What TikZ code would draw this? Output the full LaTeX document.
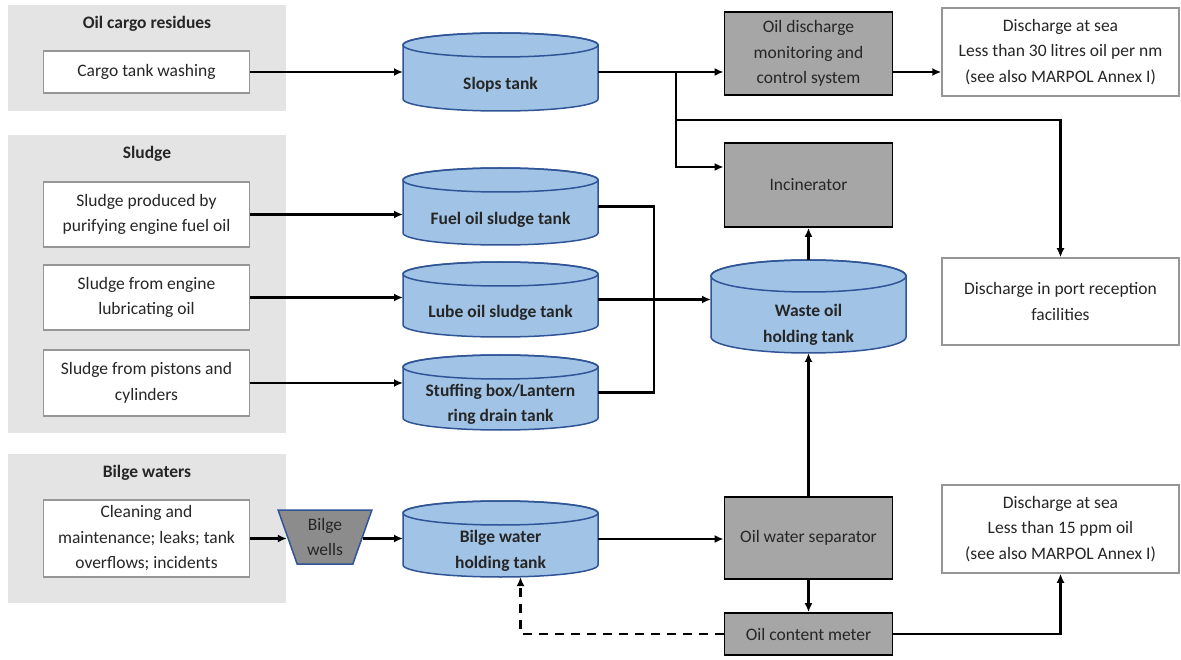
\documentclass[tikz,border=0pt]{standalone}
\usepackage{fontspec}
\setmainfont{Carlito}
\usetikzlibrary{arrows.meta, shapes.geometric, positioning}

\definecolor{panelgrey}{RGB}{228,228,228}
\definecolor{procgrey}{RGB}{166,166,166}
\definecolor{tankblue}{RGB}{160,195,230}
\definecolor{tankedge}{RGB}{47,85,151}
\definecolor{boxedge}{RGB}{150,150,150}
\definecolor{wellgrey}{RGB}{140,140,140}
\definecolor{inkgrey}{RGB}{38,38,38}

\newcommand\txt{\fontsize{17.5pt}{25.5pt}\selectfont}
\newcommand\tankrx{97.5pt}

\tikzset{
  tank ry/.store in=\tankry, tank ry=12pt,
  panel/.style={fill=panelgrey, draw=none, minimum width=278pt, inner sep=0pt},
  paneltitle/.style={font=\txt\bfseries},
  srcbox/.style={draw=boxedge, fill=white, line width=1.5pt, minimum width=206pt, align=center, inner sep=0pt},
  outbox/.style={draw=boxedge, fill=white, line width=1.5pt, minimum width=237pt, align=center, inner sep=0pt},
  procbox/.style={draw=black, fill=procgrey, line width=1.8pt, minimum width=168pt, align=center, inner sep=0pt},
  tank/.style={rectangle, minimum width=197pt, outer sep=-1pt, inner sep=0pt, align=center,
    font=\txt\bfseries, text height=38pt,
    path picture={
      \path ([xshift=1pt,yshift=-1pt]path picture bounding box.north west) coordinate (tnw)
            ([xshift=-1pt,yshift=1pt]path picture bounding box.south east) coordinate (tse)
            (tnw |- tse) coordinate (tsw) (tse |- tnw) coordinate (tne);
      \path[fill=tankblue, draw=tankedge, line width=1.5pt]
        ([yshift=-\tankry]tnw) -- ([yshift=\tankry]tsw)
        arc[start angle=180, end angle=360, x radius=\tankrx, y radius=\tankry]
        -- ([yshift=-\tankry]tne)
        arc[start angle=0, end angle=180, x radius=\tankrx, y radius=\tankry] -- cycle;
      \draw[tankedge, line width=1.5pt] ([yshift=-1pt-\tankry]path picture bounding box.north)
        ellipse[x radius=\tankrx, y radius=\tankry];
    }},
  twolines/.style={text height=61pt},
  well/.style={trapezium, trapezium stretches=true, trapezium left angle=72, trapezium right angle=72,
    shape border rotate=180, draw=tankedge, fill=wellgrey, line width=1.5pt, minimum width=94pt,
    minimum height=54pt, align=center, inner sep=0pt},
  flow/.style={line width=2.2pt, -{Latex[length=9pt,width=8pt]}},
}

\begin{document}
\begin{tikzpicture}[x=1pt, y=-1pt, every node/.append style={font=\txt, text=inkgrey}]
\useasboundingbox (0,0) rectangle (1181,660);

% source groups
\node[panel, minimum height=106pt] (cargopanel) at (147,58) {};
\node[panel, minimum height=298pt] (sludgepanel) at (147,284) {};
\node[panel, minimum height=149pt] (bilgepanel) at (147,528.5) {};
\node[paneltitle] (cargotitle) at (147,24) {Oil cargo residues};
\node[paneltitle] (sludgetitle) at (147,154) {Sludge};
\node[paneltitle] (bilgetitle) at (147,473) {Bilge waters};

\node[srcbox, minimum height=42pt] (washing) at (146.5,72) {Cargo tank washing};
\node[srcbox, minimum height=65pt] (fuelsrc) at (146.5,214.5) {Sludge produced by\\purifying engine fuel oil};
\node[srcbox, minimum height=65pt] (lubesrc) at (146.5,297.5) {Sludge from engine\\lubricating oil};
\node[srcbox, minimum height=66pt] (pistonsrc) at (146.5,383) {Sludge from pistons and\\cylinders};
\node[srcbox, minimum height=77pt] (cleaning) at (146.5,538.5) {Cleaning and\\maintenance; leaks; tank\\overflows; incidents};

\node[well] (wells) at (325,537) {Bilge\\wells};

% tanks
\node[tank, minimum height=80pt] (slops) at (500.5,72) {Slops tank};
\node[tank, minimum height=79pt] (fueltank) at (500.5,206.5) {Fuel oil sludge tank};
\node[tank, minimum height=77pt] (lubetank) at (500.5,299.5) {Lube oil sludge tank};
\node[tank, twolines, minimum height=77pt] (stuffing) at (500.5,392.5) {Stuffing box/Lantern\\ring drain tank};
\node[tank, twolines, minimum height=78pt] (bilgetank) at (500.5,539) {Bilge water\\holding\ tank};
\node[tank, tank ry=16pt, minimum height=95pt, text height=74.5pt] (waste) at (808.5,306.5) {Waste oil\\holding tank};

% treatment
\node[procbox, minimum height=83pt] (odm) at (808.5,53.5) {Oil discharge\\monitoring and\\control system};
\node[procbox, minimum height=84pt] (incin) at (808.5,185) {Incinerator};
\node[procbox, minimum height=82pt] (ows) at (808.5,538) {Oil water separator};
\node[procbox, minimum height=42pt] (ocm) at (808.5,634) {Oil content meter};

% outlets
\node[outbox, minimum height=88pt] (seaoil) at (1060.5,52) {Discharge at sea\\Less than 30 litres oil per nm\\(see also MARPOL Annex I)};
\node[outbox, minimum height=87pt] (port) at (1060.5,301.5) {Discharge in port reception\\facilities};
\node[outbox, minimum height=88pt] (seabilge) at (1060.5,529) {Discharge at sea\\Less than 15 ppm oil\\(see also MARPOL Annex I)};

\coordinate (split) at (676,72);
\coordinate (collect) at (654,300);

\path[flow]
  (washing) edge (slops)
  (slops.east) edge (odm.west |- slops.east)
  (odm.east |- slops.east) edge (seaoil.west |- slops.east)
  (fuelsrc.east) edge (fueltank.west |- fuelsrc.east)
  (lubesrc.east) edge (lubetank.west |- lubesrc.east)
  (pistonsrc.east) edge (stuffing.west |- pistonsrc.east)
  (cleaning.east) edge (wells.west |- cleaning.east)
  (wells.east |- cleaning.east) edge (bilgetank.west |- cleaning.east)
  (bilgetank.east) edge (ows.west |- bilgetank.east)
  (lubetank.east) edge (waste.west |- lubetank.east)
  (waste) edge (incin)
  (ows) edge (waste)
  (ows) edge (ocm);

\draw[flow] (split) |- ([yshift=18pt]incin.west);
\draw[flow] (split |- 0,120) -| (port.north);
\draw[line width=2.2pt] (fueltank.east) -| (collect) |- (stuffing.east);
\draw[flow] (ocm.east) -| (seabilge.south);
\draw[flow, dash pattern=on 9pt off 7pt] (ocm.west) -| ([xshift=20pt]bilgetank.south);
\end{tikzpicture}
\end{document}
